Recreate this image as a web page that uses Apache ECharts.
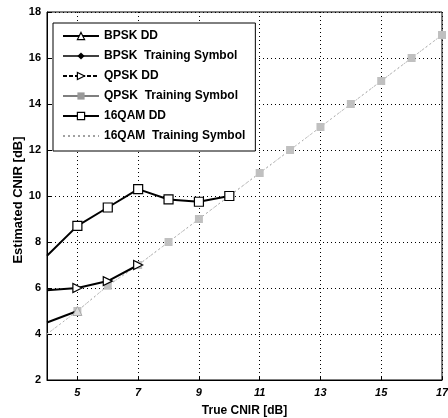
<!DOCTYPE html>
<html><head><meta charset="utf-8">
<script src="https://cdn.jsdelivr.net/npm/echarts@6/dist/echarts.min.js"></script>
<style>html,body{margin:0;padding:0;background:#fff}#c{width:448px;height:418px}</style>
</head><body><div id="c"></div>
<script>
const xTicks = [5, 7, 9, 11, 13, 15, 17];
const bpskDDx = [4, 5];
const bpskDDy = [4.5, 5.0];
const qpskDDx = [4, 5, 6, 7];
const qpskDDy = [5.9, 6.0, 6.3, 7.0];
const qamDDx = [4, 5, 6, 7, 8, 9, 10];
const qamDDy = [7.4, 8.7, 9.5, 10.3, 9.85, 9.75, 10.0];
const trainX = [4, 5, 6, 7, 8, 9, 10, 11, 12, 13, 14, 15, 16, 17];
const bpskTrY = [4.0, 5.0, 6.1, 7.0, 8.0, 9.0, 10.0, 11.0, 12.0, 13.0, 14.0, 15.0, 16.0, 17.0];
const qpskTrY = [4.0, 5.0, 6.1, 7.0, 8.0, 9.0, 10.0, 11.0, 12.0, 13.0, 14.0, 15.0, 16.0, 17.0];
const qamTrY  = [4.0, 5.0, 6.1, 7.0, 8.0, 9.0, 10.0, 11.0, 12.0, 13.0, 14.0, 15.0, 16.0, 17.0];

const names = ['BPSK DD', 'BPSK  Training Symbol', 'QPSK DD', 'QPSK  Training Symbol', '16QAM DD', '16QAM  Training Symbol'];
const yTitle = 'Estimated CNIR [dB]';
const xTitle = 'True CNIR [dB]';
// points on the left edge (x = 4) are drawn without a marker, as in the original
const pairs = (xs, ys) => xs.map((x, i) => (i === 0 ? { value: [x, ys[i]], symbol: 'none' } : [x, ys[i]]));
const font = 'Liberation Sans, Arial, sans-serif';
const chart = echarts.init(document.getElementById('c'));
chart.setOption({
  animation: false,
  backgroundColor: '#fff',
  grid: { left: 47, right: 6, top: 12, bottom: 38, outerBoundsMode: 'none', containLabel: false,
          show: true, borderColor: '#000', borderWidth: 1, backgroundColor: 'transparent' },
  graphic: [{
    type: 'text', x: 12, y: 200, rotation: Math.PI / 2,
    style: { text: yTitle, font: 'bold 13px ' + font, fill: '#000', align: 'center', verticalAlign: 'top' }
  }],
  xAxis: {
    type: 'value', min: 4, max: 17,
    name: xTitle, nameLocation: 'middle', nameGap: 25,
    nameTextStyle: { fontFamily: font, fontWeight: 'bold', fontSize: 12, color: '#000' },
    axisLine: { lineStyle: { color: '#000', width: 1 } },
    axisTick: { inside: true, length: 4, customValues: xTicks, lineStyle: { color: '#000' } },
    axisLabel: { customValues: xTicks, fontFamily: font, fontWeight: 'bold', fontStyle: 'italic', fontSize: 11, color: '#000', margin: 7 },
    splitLine: { show: true, customValues: xTicks, lineStyle: { color: '#000', type: [1, 3], width: 1 } }
  },
  yAxis: {
    type: 'value', min: 2, max: 18, interval: 2,
    axisLine: { show: true, lineStyle: { color: '#000', width: 1 } },
    axisTick: { show: true, inside: true, length: 4, lineStyle: { color: '#000' } },
    axisLabel: { fontFamily: font, fontWeight: 'bold', fontSize: 11, color: '#000', margin: 6 },
    splitLine: { show: true, lineStyle: { color: '#000', type: [1, 3], width: 1 } }
  },
  legend: {
    orient: 'vertical', left: 53, top: 23,
    backgroundColor: '#fff', borderColor: '#000', borderWidth: 1,
    padding: [6, 10, 8, 9],
    itemWidth: 36, itemHeight: 9, itemGap: 6,
    textStyle: { fontFamily: font, fontWeight: 'bold', fontSize: 12, color: '#000', lineHeight: 14 },
    data: [
      { name: names[0], itemStyle: { color: '#fff', borderColor: '#000', borderWidth: 1.2 }, lineStyle: { color: '#000', width: 2, type: 'solid' } },
      { name: names[1], itemStyle: { color: '#000', borderColor: '#000', opacity: 1 }, lineStyle: { color: '#000', width: 1.5, type: 'solid' } },
      { name: names[2], itemStyle: { color: '#fff', borderColor: '#000', borderWidth: 1.2 }, lineStyle: { color: '#000', width: 2, type: [4, 2] } },
      { name: names[3], itemStyle: { color: '#999', borderColor: '#999', opacity: 1 }, lineStyle: { color: '#000', width: 1.2, type: 'solid', opacity: 1 } },
      { name: names[4], itemStyle: { color: '#fff', borderColor: '#000', borderWidth: 1.2 }, lineStyle: { color: '#000', width: 2, type: 'solid' } },
      { name: names[5], itemStyle: { color: 'transparent', borderColor: 'transparent', borderWidth: 0 }, lineStyle: { color: '#444', width: 1, type: [2, 3], opacity: 1 } }
    ]
  },
  series: [
    { name: names[1], type: 'line', data: pairs(trainX, bpskTrY), symbol: 'diamond', symbolSize: 6,
      itemStyle: { color: '#aaa' }, lineStyle: { color: '#bbb', width: 1, type: [2, 3] }, z: 2 },
    { name: names[3], type: 'line', data: pairs(trainX, qpskTrY), symbol: 'rect', symbolSize: 8,
      itemStyle: { color: '#c0c0c0' }, lineStyle: { color: '#ccc', width: 1, type: [1, 4] }, z: 2 },
    { name: names[5], type: 'line', data: pairs(trainX, qamTrY), symbol: 'none',
      lineStyle: { color: '#aaa', width: 1, type: [1, 3] }, z: 2 },
    { name: names[0], type: 'line', data: pairs(bpskDDx, bpskDDy), symbol: 'triangle', symbolSize: 9,
      itemStyle: { color: '#ddd', borderColor: '#aaa', borderWidth: 1 }, lineStyle: { color: '#000', width: 2 }, z: 3 },
    { name: names[2], type: 'line', data: pairs(qpskDDx, qpskDDy), symbol: 'triangle', symbolRotate: -90, symbolSize: 9,
      itemStyle: { color: '#fff', borderColor: '#000', borderWidth: 1.2 }, lineStyle: { color: '#000', width: 2 }, z: 3 },
    { name: names[4], type: 'line', data: pairs(qamDDx, qamDDy), symbol: 'rect', symbolSize: 9,
      itemStyle: { color: '#fff', borderColor: '#000', borderWidth: 1.2 }, lineStyle: { color: '#000', width: 2 }, z: 3 }
  ]
});
</script></body></html>
